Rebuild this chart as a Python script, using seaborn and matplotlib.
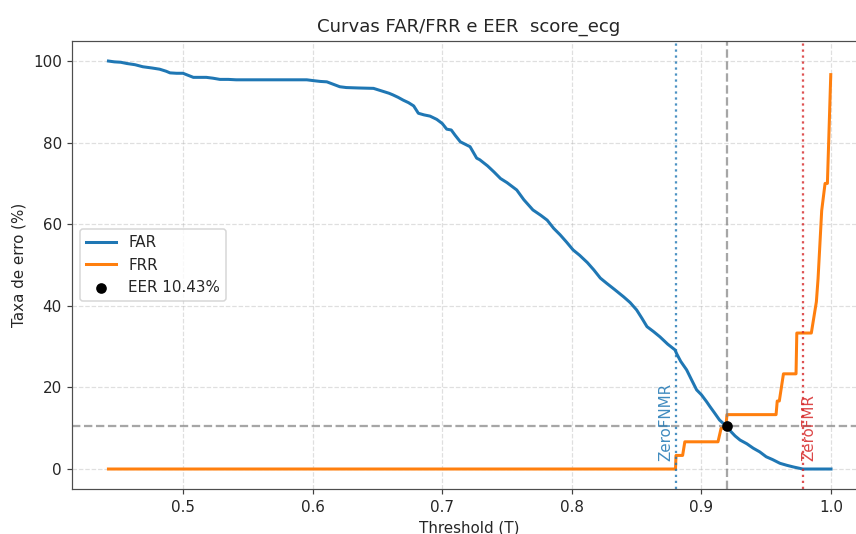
import numpy as np
import pandas as pd
import matplotlib
matplotlib.use("Agg")
import matplotlib.pyplot as plt
import seaborn as sns

# ---- data ----
far_thr = [0.4425, 0.447, 0.452, 0.4566, 0.463, 0.469, 0.476, 0.482, 0.487, 0.490, 0.495,
           0.500, 0.504, 0.508, 0.513, 0.518, 0.523, 0.5285, 0.535, 0.541, 0.560, 0.580,
           0.5955, 0.6005, 0.606, 0.611, 0.616, 0.621, 0.626, 0.635, 0.647, 0.651, 0.655,
           0.659, 0.662, 0.666, 0.670, 0.674, 0.678, 0.6816, 0.686, 0.6906, 0.6958, 0.700,
           0.7035, 0.707, 0.710, 0.714, 0.7215, 0.7266, 0.729, 0.735, 0.740, 0.745, 0.750,
           0.7575, 0.763, 0.770, 0.776, 0.781, 0.786, 0.791, 0.796, 0.801, 0.806, 0.812,
           0.817, 0.822, 0.827, 0.833, 0.840, 0.845, 0.850, 0.854, 0.858, 0.863, 0.868,
           0.874, 0.8796, 0.881, 0.884, 0.8886, 0.8925, 0.8963, 0.900, 0.904, 0.9066,
           0.910, 0.914, 0.9195, 0.923, 0.926, 0.9298, 0.935, 0.940, 0.945, 0.950, 0.955,
           0.9606, 0.966, 0.971, 0.9782, 0.985, 1.0]
far_val = [100.0, 99.8, 99.7, 99.4, 99.1, 98.6, 98.3, 98.0, 97.5, 97.1, 97.0,
           97.0, 96.5, 96.0, 96.0, 96.0, 95.8, 95.5, 95.5, 95.4, 95.4, 95.4,
           95.4, 95.2, 95.0, 94.9, 94.3, 93.7, 93.5, 93.4, 93.3, 92.9, 92.5,
           92.1, 91.7, 91.1, 90.4, 89.8, 89.0, 87.2, 86.8, 86.5, 85.7, 84.7,
           83.3, 83.1, 81.8, 80.2, 79.0, 76.2, 75.8, 74.3, 72.8, 71.2, 70.2,
           68.4, 66.0, 63.5, 62.2, 61.0, 59.0, 57.4, 55.6, 53.7, 52.4, 50.6,
           48.8, 46.8, 45.5, 44.0, 42.2, 40.8, 39.0, 37.0, 34.9, 33.7, 32.4,
           30.6, 29.2, 28.2, 26.4, 24.3, 21.8, 19.4, 18.2, 16.5, 15.3,
           13.8, 12.0, 10.43, 9.1, 8.1, 7.1, 6.2, 5.1, 4.2, 3.0, 2.3,
           1.4, 0.9, 0.5, 0.0, 0.0, 0.0]

frr_thr = [0.4425, 0.8800, 0.8804, 0.8855, 0.8872, 0.9128, 0.9152, 0.9188, 0.9197,
           0.9576, 0.9585, 0.9601, 0.9633, 0.9730, 0.9736, 0.9848, 0.9887, 0.9900,
           0.9928, 0.9954, 0.9972, 0.9998]
frr_val = [0.0, 0.0, 3.33, 3.33, 6.67, 6.67, 10.0, 10.0, 13.33,
           13.33, 16.67, 16.67, 23.33, 23.33, 33.33, 33.33, 41.0, 46.67,
           63.33, 70.0, 70.0, 96.67]

eer_thr = 0.9195
eer_val = 10.43
zero_fnmr = 0.8804
zero_fmr = 0.9782

title = "Curvas FAR/FRR e EER  score_ecg"
xlabel = "Threshold (T)"
ylabel = "Taxa de erro (%)"

plt.rcParams.update({
    "text.color": "0.15",
    "axes.labelcolor": "0.15",
    "xtick.color": "0.25",
    "ytick.color": "0.25",
    "xtick.labelcolor": "0.15",
    "ytick.labelcolor": "0.15",
    "axes.edgecolor": "0.3",
})

# ---- figure ----
DPI = 108.5
fig = plt.figure(figsize=(856 / DPI, 534 / DPI), dpi=DPI)
ax = fig.add_axes([0.0846, 0.0835, 0.9268, 0.8404])

df_far = pd.DataFrame({"thr": far_thr, "val": far_val})
df_frr = pd.DataFrame({"thr": frr_thr, "val": frr_val})

sns.lineplot(data=df_far, x="thr", y="val", ax=ax, color="#1f77b4", lw=2,
             label="FAR", sort=False, estimator=None)
sns.lineplot(data=df_frr, x="thr", y="val", ax=ax, color="#ff7f0e", lw=2,
             label="FRR", sort=False, estimator=None)
sns.scatterplot(x=[eer_thr], y=[eer_val], ax=ax, color="black", s=50,
                linewidth=0, zorder=5, label=f"EER {eer_val:.2f}%")

ax.axvline(eer_thr, color="gray", ls="--", lw=1.5, alpha=0.7)
ax.axhline(eer_val, color="gray", ls="--", lw=1.5, alpha=0.7)
ax.axvline(zero_fnmr, color="#1f77b4", ls=":", lw=1.5, alpha=0.8)
ax.axvline(zero_fmr, color="#d62728", ls=":", lw=1.5, alpha=0.8)
ax.text(zero_fnmr - 0.002, 2, "ZeroFNMR", rotation=90, color="#1f77b4",
        alpha=0.85, ha="right", va="bottom", fontsize=10)
ax.text(zero_fmr - 0.001, 2, "ZeroFMR", rotation=90, color="#d62728",
        alpha=0.85, ha="left", va="bottom", fontsize=10)

ax.set_xlim(0.4147, 1.0268)
ax.set_ylim(-5, 105)
ax.set_xticks([0.5, 0.6, 0.7, 0.8, 0.9, 1.0])
ax.set_yticks([0, 20, 40, 60, 80, 100])
ax.spines["right"].set_visible(False)
ax.grid(True, ls="--", alpha=0.4)
ax.set_title(title, fontsize=12)
ax.set_xlabel(xlabel)
ax.set_ylabel(ylabel)
ax.legend(loc="center left")

fig.savefig("out.png", dpi=DPI)
